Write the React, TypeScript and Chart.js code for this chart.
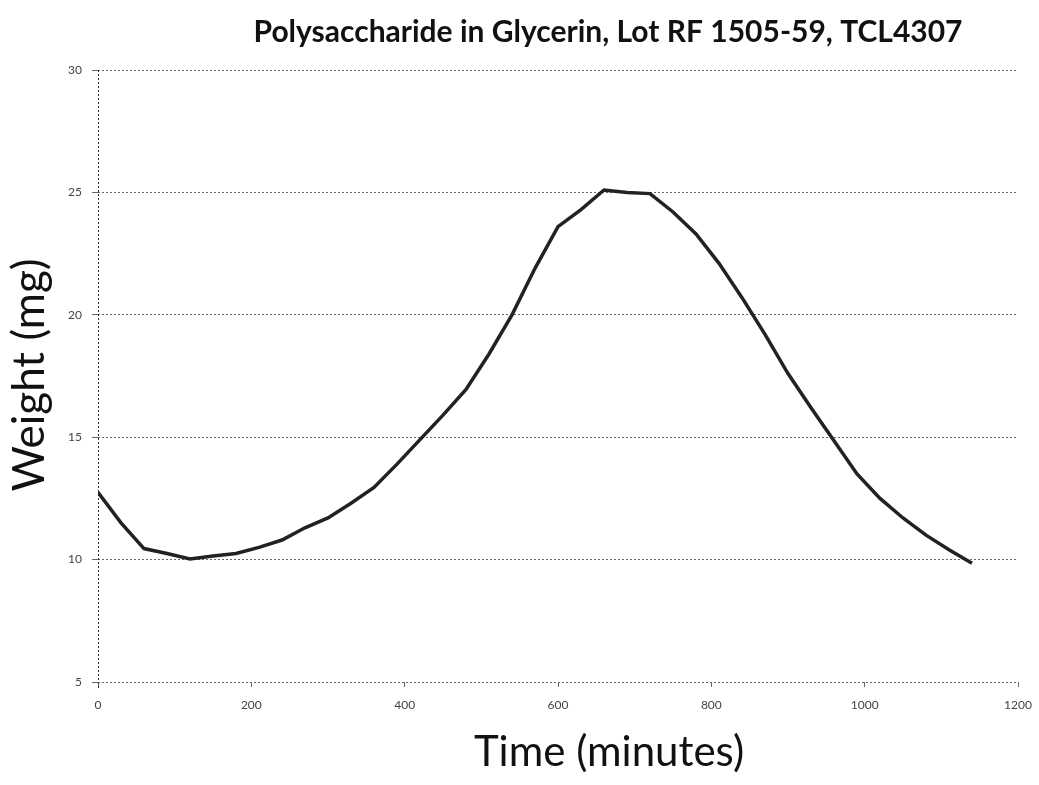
import React, { useEffect, useRef } from "react";
import { Chart, registerables } from "chart.js";

Chart.register(...registerables);

const chartTitle = "Polysaccharide in Glycerin, Lot RF 1505-59, TCL4307";
const xTitle = "Time (minutes)";
const yTitle = "Weight (mg)";

const timeMinutes = [
  0, 30, 60, 90, 120, 150, 180, 210, 240, 270, 300, 330, 360, 390, 420, 450,
  480, 510, 540, 570, 600, 630, 660, 690, 720, 750, 780, 810, 840, 870, 900,
  930, 960, 990, 1020, 1050, 1080, 1110, 1140,
];
const weightMg = [
  12.75, 11.5, 10.45, 10.25, 10.03, 10.15, 10.25, 10.5, 10.8, 11.3, 11.7,
  12.3, 12.95, 13.9, 14.9, 15.9, 16.95, 18.4, 20.0, 21.9, 23.6, 24.3, 25.1,
  25.0, 24.95, 24.2, 23.3, 22.1, 20.7, 19.2, 17.6, 16.2, 14.85, 13.5, 12.5,
  11.7, 11.0, 10.4, 9.85,
];
const xTicks = [0, 200, 400, 600, 800, 1000, 1200];
const yTicks = [5, 10, 15, 20, 25, 30];

const W = 1039;
const H = 785;

export default function App() {
  const ref = useRef<HTMLCanvasElement | null>(null);

  useEffect(() => {
    document.body.style.margin = "0";
    const canvas = ref.current!;
    const titles = {
      id: "customTitles",
      beforeDatasetsDraw(chart: any) {
        const ctx = chart.ctx;
        const a = chart.chartArea;
        ctx.save();
        ctx.strokeStyle = "#333";
        ctx.lineWidth = 1;
        ctx.setLineDash([2, 2]);
        ctx.beginPath();
        ctx.moveTo(a.left + 0.5, a.top);
        ctx.lineTo(a.left + 0.5, a.bottom + 6);
        ctx.stroke();
        ctx.restore();
      },
      afterDraw(chart: any) {
        const ctx = chart.ctx;
        ctx.save();
        ctx.fillStyle = "#111";
        ctx.textAlign = "center";
        ctx.textBaseline = "middle";
        ctx.font = "bold 30px Lato";
        ctx.fillText(chartTitle, 608, 32);
        ctx.font = "42px Lato";
        ctx.fillText(xTitle, 609, 752);
        ctx.translate(30, 375);
        ctx.rotate(-Math.PI / 2);
        ctx.font = "44px Lato";
        ctx.fillText(yTitle, 0, 0);
        ctx.restore();
      },
    };
    const chart = new Chart(canvas, {
      type: "line",
      data: {
        datasets: [
          {
            data: timeMinutes.map((t, i) => ({ x: t, y: weightMg[i] })),
            borderColor: "#222",
            borderWidth: 3.5,
            pointRadius: 0,
            tension: 0,
            fill: false,
          },
        ],
      },
      options: {
        animation: false,
        responsive: false,
        layout: { padding: { top: 70, right: 21, bottom: 63, left: 0 } },
        plugins: { legend: { display: false }, tooltip: { enabled: false } },
        scales: {
          x: {
            type: "linear",
            min: 0,
            max: 1200,
            afterBuildTicks: (s: any) => {
              s.ticks = xTicks.map((v) => ({ value: v }));
            },
            afterFit: (s: any) => {
              s.height = 40;
              s.paddingLeft = 0;
              s.paddingRight = 0;
            },
            grid: {
              drawOnChartArea: false,
              drawTicks: true,
              tickLength: 5,
              color: "#666",
            },
            border: { display: false },
            ticks: {
              color: "#444",
              font: { family: "Lato", size: 12 },
              padding: 11,
              maxRotation: 0,
              callback: (v: any) => String(v),
            },
          },
          y: {
            min: 5,
            max: 30,
            afterBuildTicks: (s: any) => {
              s.ticks = yTicks.map((v) => ({ value: v }));
            },
            afterFit: (s: any) => {
              s.width = 98;
              s.paddingTop = 0;
              s.paddingBottom = 0;
            },
            grid: {
              color: "#666",
              tickLength: 6,
            },
            border: { display: false, dash: [2, 2] },
            ticks: {
              color: "#444",
              font: { family: "Lato", size: 12 },
              padding: 10,
              callback: (v: any) => String(v),
            },
          },
        },
      } as any,
      plugins: [titles],
    });
    return () => chart.destroy();
  }, []);

  return (
    <div style={{ position: "absolute", left: 0, top: 0, width: W, height: H }}>
      <canvas ref={ref} width={W} height={H} style={{ width: W, height: H }} />
    </div>
  );
}
